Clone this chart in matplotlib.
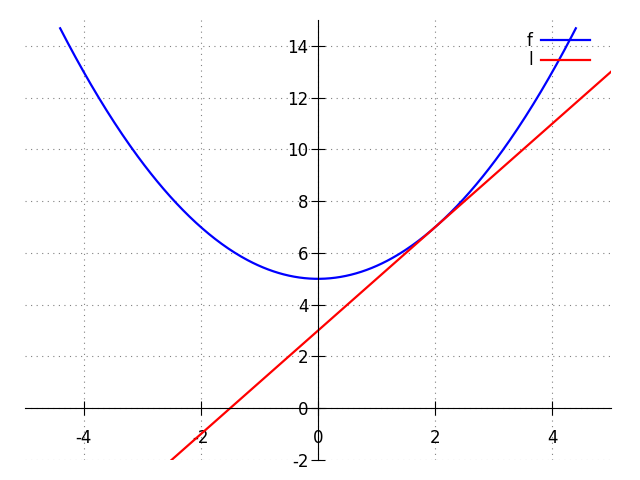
import numpy as np
import matplotlib
matplotlib.use("Agg")
import matplotlib.pyplot as plt

plt.rcParams['axes.unicode_minus'] = False

# Data: f(x) = a*x^2 + b*x + c, tangent line l(x) = m*x + k at x=2
f_coeffs = [0.5, 0.0, 5.0]
f_range = [-4.4, 4.4]
l_coeffs = [2.0, 3.0]
l_range = [-2.5, 5.0]
x_ticks = [-4, -2, 0, 2, 4]
y_ticks = [-2, 0, 2, 4, 6, 8, 10, 12, 14]
labels = ["f", "l"]
colors = ["blue", "red"]

fig = plt.figure(figsize=(6.4, 4.8), dpi=100)
ax = fig.add_axes([25/640, 1-460/480, 586/640, 440/480])

xf = np.linspace(f_range[0], f_range[1], 400)
ax.plot(xf, np.polyval(f_coeffs, xf), color=colors[0], lw=1.6, label=labels[0])
xl = np.linspace(l_range[0], l_range[1], 2)
ax.plot(xl, np.polyval(l_coeffs, xl), color=colors[1], lw=1.6, label=labels[1])

ax.set_xlim(-5, 5)
ax.set_ylim(-2, 15)
ax.set_xticks(x_ticks)
ax.set_yticks(y_ticks)
ax.spines['left'].set_position(('data', 0))
ax.spines['bottom'].set_position(('data', 0))
ax.spines['top'].set_visible(False)
ax.spines['right'].set_visible(False)
ax.tick_params(direction='inout', length=10, labelsize=12)
ax.tick_params(axis='x', pad=10)
ax.tick_params(axis='y', pad=2)
ax.grid(True, linestyle=(0, (1, 4)), color='gray', lw=0.8)
ax.set_axisbelow(True)

leg = ax.legend(loc='upper right', bbox_to_anchor=(1 - 9/586, 1.0),
                frameon=False, markerfirst=False,
                fontsize=12, handlelength=2.95, handletextpad=0.5,
                borderaxespad=0.3, labelspacing=0.1)

fig.savefig("out.png", dpi=100)
